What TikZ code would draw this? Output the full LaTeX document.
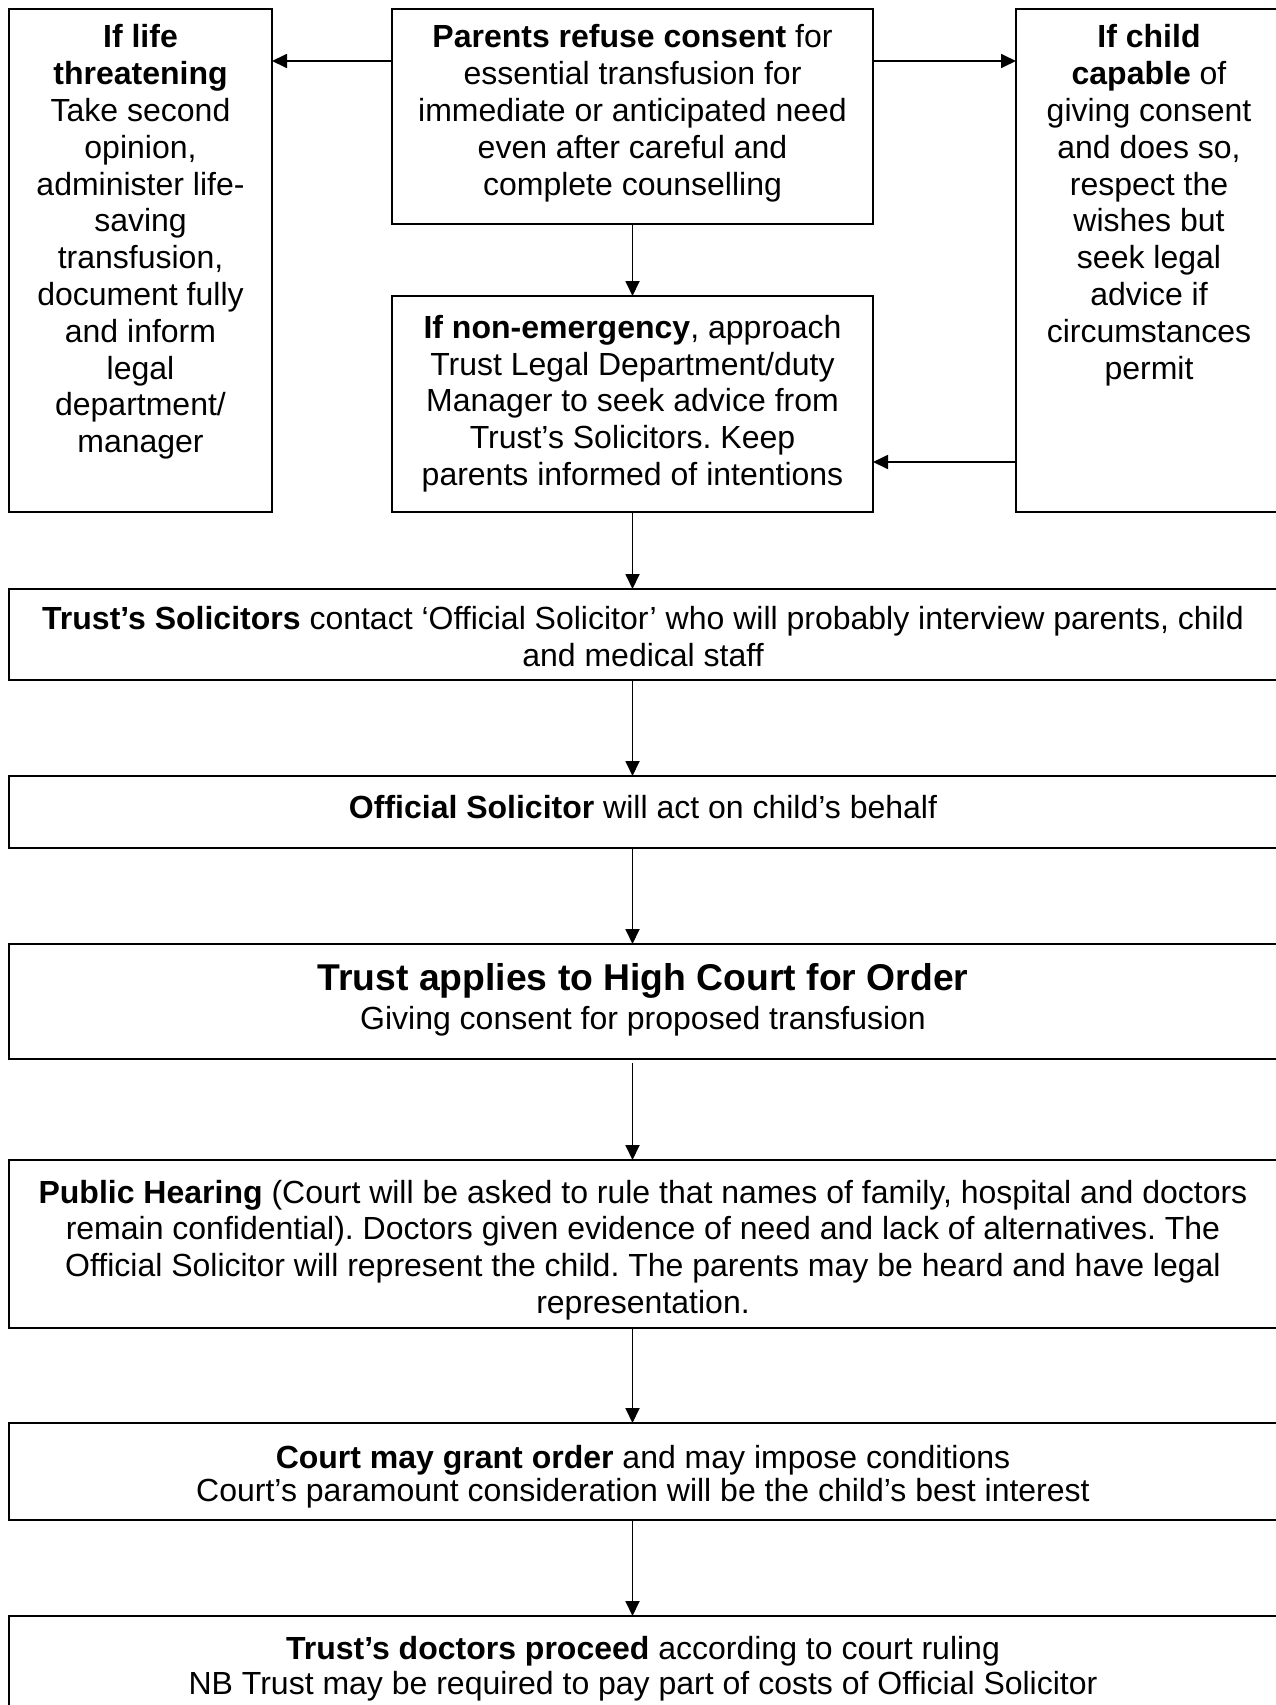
\documentclass[tikz,border=0pt]{standalone}
\usepackage{fontspec}
\setmainfont{Liberation Sans}
\usetikzlibrary{arrows.meta}
\frenchspacing
\begin{document}
\begin{tikzpicture}[x=1pt,y=-1pt,
  box/.style={draw, line width=1.8pt, inner sep=0pt, outer sep=0pt},
  txt/.style={inner sep=0pt, align=center, anchor=north, font=\fontsize{32}{36.8}\selectfont},
  arr/.style={line width=1.8pt, -{Triangle[length=15pt,width=14pt]}}]
\useasboundingbox (0,0) rectangle (1276,1705);
\fill[white] (0,0) rectangle (1276,1705);
% boxes
\node[box, minimum width=263pt, minimum height=503pt] (L) at (140.5,260.5) {};
\node[box, minimum width=481pt, minimum height=215pt] (P) at (632.5,116.5) {};
\node[box, minimum width=481pt, minimum height=216pt] (N) at (632.5,404) {};
\node[box, minimum width=266pt, minimum height=503pt] (R) at (1149,260.5) {};
\node[box, minimum width=1268pt, minimum height=91pt] (S) at (643,634.5) {};
\node[box, minimum width=1268pt, minimum height=72pt] (O) at (643,812) {};
\node[box, minimum width=1268pt, minimum height=115pt] (T) at (643,1001.5) {};
\node[box, minimum width=1268pt, minimum height=168pt] (H) at (643,1244) {};
\node[box, minimum width=1268pt, minimum height=97pt] (C) at (643,1471.5) {};
\node[box, minimum width=1268pt, minimum height=114pt] (D) at (643,1673) {};
% texts
\node[txt] (Ltx) at (140.5,24.6) {\textbf{If life}\\\textbf{threatening}\\Take second\\opinion,\\administer life-\\saving\\transfusion,\\document fully\\and inform\\legal\\department/\\manager};
\node[txt] (Ptx) at (632.5,24.6) {\textbf{Parents refuse consent} for\\essential transfusion for\\immediate or anticipated need\\even after careful and\\complete counselling};
\node[txt] (Rtx) at (1149,24.6) {\textbf{If child}\\\textbf{capable} of\\giving consent\\and does so,\\respect the\\wishes but\\seek legal\\advice if\\circumstances\\permit};
\node[txt] (Ntx) at (632.5,315) {\textbf{If non-emergency}, approach\\Trust Legal Department/duty\\Manager to seek advice from\\Trust’s Solicitors. Keep\\parents informed of intentions};
\node[txt] (Stx) at (643,606.6) {\textbf{Trust’s Solicitors} contact ‘Official Solicitor’ who will probably interview parents, child\\and medical staff};
\node[txt] (Otx) at (643,795.6) {\textbf{Official Solicitor} will act on child’s behalf};
\node[txt, font=\fontsize{37.3}{42}\selectfont\bfseries] (Ttl) at (643,963.5) {Trust applies to High Court for Order};
\node[txt] (Tsub) at (643,1005.6) {Giving consent for proposed transfusion};
\node[txt] (Htx) at (643,1179.6) {\textbf{Public Hearing} (Court will be asked to rule that names of family, hospital and doctors\\remain confidential). Doctors given evidence of need and lack of alternatives. The\\Official Solicitor will represent the child. The parents may be heard and have legal\\representation.};
\node[txt, font=\fontsize{32}{33}\selectfont] (Ctx) at (643,1444.6) {\textbf{Court may grant order} and may impose conditions\\Court’s paramount consideration will be the child’s best interest};
\node[txt, font=\fontsize{32}{35}\selectfont] (Dtx) at (643,1636) {\textbf{Trust’s doctors proceed} according to court ruling\\NB Trust may be required to pay part of costs of Official Solicitor};
% connectors
\coordinate (ya) at (0,61);
\coordinate (yb) at (0,462);
\draw[arr] (P.west |- ya) -- (L.east |- ya);
\draw[arr] (P.east |- ya) -- (R.west |- ya);
\draw[arr] (P.south) -- (N.north);
\draw[arr] (R.west |- yb) -- (N.east |- yb);
\draw[arr] (N.south) -- (S.north -| N.south);
\draw[arr] (S.south -| N.south) -- (O.north -| N.south);
\draw[arr] (O.south -| N.south) -- (T.north -| N.south);
\draw[arr, shorten <=4pt] (T.south -| N.south) -- (H.north -| N.south);
\draw[arr] (H.south -| N.south) -- (C.north -| N.south);
\draw[arr] (C.south -| N.south) -- (D.north -| N.south);
\end{tikzpicture}
\end{document}
